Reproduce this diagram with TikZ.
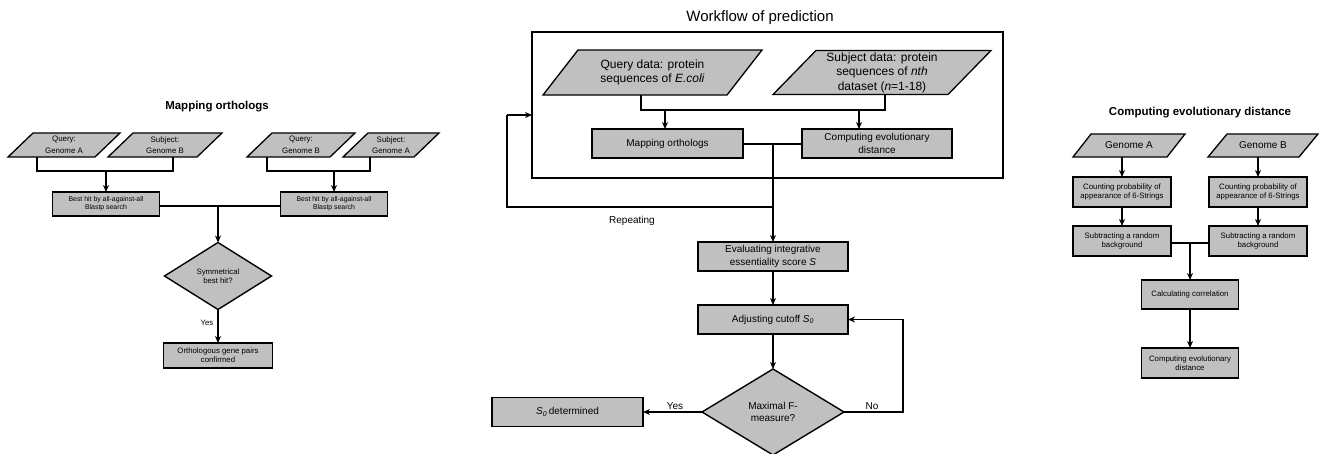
\documentclass[tikz,border=0pt]{standalone}
\usepackage{fontspec}
\setmainfont{Liberation Sans}
\usetikzlibrary{shapes.geometric,arrows.meta,backgrounds,calc}
\definecolor{boxgray}{HTML}{C0C0C0}
\newcommand\paraback[2]{\begin{scope}[on background layer]\draw[pshape] (#1.south west) -- ([xshift=#2pt]#1.north west) -- (#1.north east) -- ([xshift=-#2pt]#1.south east) -- cycle;\end{scope}}
\tikzset{
  ln/.style={line width=1.4pt},
  arr/.style={line width=1.4pt,-{Stealth[length=7pt,width=6pt]}},
  pshape/.style={draw,line width=1.3pt,fill=boxgray},
  ptxt/.style={inner sep=0pt,outer sep=0pt,align=center},
  rbox/.style={draw,line width=1.4pt,fill=boxgray,inner sep=0pt,outer sep=0pt,align=center},
  dbox/.style={diamond,draw,line width=1.4pt,fill=boxgray,inner sep=0pt,outer sep=0pt,align=center},
  fA/.style={font=\fontsize{7.9}{11.5}\selectfont},
  fB/.style={font=\fontsize{6.9}{8}\selectfont},
  fC/.style={font=\fontsize{7.8}{9.4}\selectfont},
  fM/.style={font=\fontsize{10}{12.3}\selectfont},
  fP/.style={font=\fontsize{12}{14.5}\selectfont},
  ttl/.style={font=\fontsize{11.5}{14}\selectfont\bfseries},
  lbl/.style={inner sep=0pt}
}
\begin{document}
\begin{tikzpicture}[x=1pt,y=-1pt]
\begin{scope}[on background layer]
\fill[white] (0,0) rectangle (1319,453);
\end{scope}
\useasboundingbox (0,0) rectangle (1319,453);

% ---------------- Left panel: Mapping orthologs
\node[ttl] (t1) at (217,107) {Mapping orthologs};
\node[ptxt,fA,minimum width=112,minimum height=24] (p1) at (64,145) {Query:\\Genome A};
\paraback{p1}{25}
\node[ptxt,fA,minimum width=114,minimum height=24] (p2) at (165,145) {Subject:\\Genome B};
\paraback{p2}{25}
\node[ptxt,fA,minimum width=108,minimum height=24] (p3) at (301,145) {Query:\\Genome B};
\paraback{p3}{25}
\node[ptxt,fA,minimum width=96,minimum height=24] (p4) at (391,145) {Subject:\\Genome A};
\paraback{p4}{25}

\node[rbox,fB,minimum width=107,minimum height=24] (b1) at (106,204) {Best hit by all-against-all\\Blastp search};
\node[rbox,fB,minimum width=107,minimum height=24] (b2) at (334,204) {Best hit by all-against-all\\Blastp search};
\coordinate (j1) at (106,171);
\coordinate (j2) at (334,171);
\draw[ln] (37,0 |- p1.south) |- (j1) -| (173,0 |- p2.south);
\draw[arr] (j1) -- (j1 |- b1.north);
\draw[ln] (267,0 |- p3.south) |- (j2) -| (370,0 |- p4.south);
\draw[arr] (j2) -- (j2 |- b2.north);

\node[dbox,fC,minimum width=107,minimum height=67] (d1) at (218,276) {Symmetrical\\best hit?};
\node[rbox,fC,minimum width=109,minimum height=25] (c1) at (218,355.5) {Orthologous gene pairs\\confirmed};
\coordinate (j3) at (218,206);
\draw[ln] (b1.east |- j3) -- (b2.west |- j3);
\draw[arr] (j3) -- (d1.north);
\draw[arr] (d1.south) -- (c1.north) node[lbl,fC,pos=0.4,left=4pt] (y1) {Yes};

% ---------------- Middle panel: Workflow of prediction
\node[font=\fontsize{15}{18}\selectfont] (t2) at (760,18) {Workflow of prediction};
\node[draw,line width=1.4pt,minimum width=471,minimum height=146,inner sep=0pt,outer sep=0pt] (frame) at (767.5,105) {};
\node[ptxt,fP,minimum width=219,minimum height=45] (q) at (652.5,72.5) {Query data: protein\\sequences of \textit{E.coli}};
\paraback{q}{35}
\node[ptxt,fP,minimum width=218,minimum height=44] (s) at (882,72.5) {Subject data: protein\\sequences of \textit{nth}\\dataset (\textit{n}=1-18)};
\paraback{s}{43}
\node[rbox,fM,minimum width=151,minimum height=29] (m) at (667.5,143.5) {Mapping orthologs};
\node[rbox,fM,minimum width=150,minimum height=29] (c) at (877,143.5) {Computing evolutionary\\distance};
\coordinate (j4) at (665,110);
\coordinate (j5) at (859,110);
\draw[ln] (641,0 |- q.south) |- (j4) -- (j5) -| (885,0 |- s.south);
\draw[arr] (j4) -- (j4 |- m.north);
\draw[arr] (j5) -- (j5 |- c.north);
\coordinate (j6) at (773,144);
\coordinate (j7) at (773,207);
\coordinate (j8) at (507,207);
\coordinate (j9) at (507,115);
\draw[ln] (m.east |- j6) -- (c.west |- j6);
\node[rbox,fM,minimum width=150,minimum height=29] (e) at (773,256.5) {Evaluating integrative\\essentiality score \textit{S}};
\draw[arr] (j6) -- (j6 |- e.north);
\draw[ln] (j7) -- (j8) -- (j9);
\draw[arr] (j9) -- (frame.west |- j9);
\node[lbl,fM] (rep) at (632,221) {Repeating};
\node[rbox,fM,minimum width=150,minimum height=29] (a) at (773,319.5) {Adjusting cutoff \textit{S\textsubscript{0}}};
\draw[arr] (e.south) -- (a.north);
\node[dbox,fM,minimum width=142,minimum height=86] (d2) at (773,412) {Maximal F-\\measure?};
\draw[arr] (a.south) -- (d2.north);
\node[rbox,fM,minimum width=151,minimum height=29] (r) at (567.5,412) {\textit{S\textsubscript{0}}\,determined};
\coordinate (j10) at (903,412);
\draw[arr] (d2.east) -- (j10) |- (a.east);
\draw[arr] (d2.west) -- (r.east);
\node[lbl,fM] (no) at (872,406) {No};
\node[lbl,fM] (yes) at (675,406) {Yes};

% ---------------- Right panel: Computing evolutionary distance
\node[ttl] (t3) at (1200,113) {Computing evolutionary distance};
\node[ptxt,font=\fontsize{10}{12}\selectfont,minimum width=112,minimum height=23] (ga) at (1129,145.5) {Genome A};
\paraback{ga}{18}
\node[ptxt,font=\fontsize{10}{12}\selectfont,minimum width=110,minimum height=23] (gb) at (1263,145.5) {Genome B};
\paraback{gb}{19}
\node[rbox,fC,minimum width=98,minimum height=30] (ca) at (1122,192) {Counting probability of\\appearance of 6-Strings};
\node[rbox,fC,minimum width=98,minimum height=30] (cb) at (1258,192) {Counting probability of\\appearance of 6-Strings};
\node[rbox,fC,minimum width=98,minimum height=30] (sa) at (1122,241) {Subtracting a random\\background};
\node[rbox,fC,minimum width=98,minimum height=30] (sb) at (1258,241) {Subtracting a random\\background};
\draw[arr] (ga.south -| ca) -- (ca);
\draw[arr] (gb.south -| cb) -- (cb);
\draw[arr] (ca) -- (sa);
\draw[arr] (cb) -- (sb);
\node[rbox,fC,minimum width=97,minimum height=29] (cl) at (1190,294.5) {Calculating correlation};
\node[rbox,fC,minimum width=97,minimum height=30] (ce) at (1190,363) {Computing evolutionary\\distance};
\coordinate (j11) at (1190,243);
\draw[ln] (sa.east |- j11) -- (sb.west |- j11);
\draw[arr] (j11) -- (cl.north);
\draw[arr] (cl) -- (ce);
\end{tikzpicture}
\end{document}
